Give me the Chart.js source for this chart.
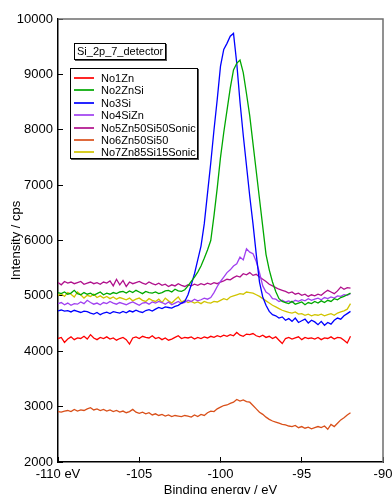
<!DOCTYPE html>
<html>
<head>
<meta charset="utf-8">
<script src="https://cdn.jsdelivr.net/npm/chart.js@4.4.0/dist/chart.umd.min.js"></script>
<style>
  html, body { margin: 0; padding: 0; background: #fff; overflow: hidden; }
  #wrap { position: relative; width: 392px; height: 494px; }
  #c { display: block; }
  .box { position: absolute; background: #fff; border: 1px solid #000; box-shadow: 1px 1px 0 #555;
         font: 11px Arial, "Liberation Sans", sans-serif; color: #000; }
  #title { left: 74px; top: 43px; padding: 1px 2px; line-height: 13px; }
  #legend { left: 70px; top: 68px; width: 126px; height: 89px; }
  .row { position: absolute; left: 0; height: 12px; line-height: 12px; white-space: nowrap; }
  .row i { position: absolute; left: 3px; top: 5px; width: 20px; height: 2px; opacity: 0.85; }
  .row span { position: absolute; left: 30px; top: 0; }
</style>
</head>
<body>
<div id="wrap">
  <canvas id="c" width="392" height="494"></canvas>
  <div id="title" class="box">Si_2p_7_detector</div>
  <div id="legend" class="box"></div>
</div>
<script>
// binding energy (eV), 0.2 eV step
var energy = [
  -110.0, -109.8, -109.6, -109.4, -109.2, -109.0, -108.8, -108.6, -108.4, -108.2,
  -108.0, -107.8, -107.6, -107.4, -107.2, -107.0, -106.8, -106.6, -106.4, -106.2,
  -106.0, -105.8, -105.6, -105.4, -105.2, -105.0, -104.8, -104.6, -104.4, -104.2,
  -104.0, -103.8, -103.6, -103.4, -103.2, -103.0, -102.8, -102.6, -102.4, -102.2,
  -102.0, -101.8, -101.6, -101.4, -101.2, -101.0, -100.8, -100.6, -100.4, -100.2,
  -100.0, -99.8, -99.6, -99.4, -99.2, -99.0, -98.8, -98.6, -98.4, -98.2,
  -98.0, -97.8, -97.6, -97.4, -97.2, -97.0, -96.8, -96.6, -96.4, -96.2,
  -96.0, -95.8, -95.6, -95.4, -95.2, -95.0, -94.8, -94.6, -94.4, -94.2,
  -94.0, -93.8, -93.6, -93.4, -93.2, -93.0, -92.8, -92.6, -92.4, -92.2,
  -92.0
];

var no1Zn = [
  4230, 4250, 4160, 4220, 4260, 4210, 4240, 4230, 4270, 4220,
  4300, 4240, 4210, 4250, 4230, 4260, 4220, 4240, 4200, 4230,
  4250, 4210, 4130, 4240, 4260, 4230, 4270, 4250, 4240, 4280,
  4230, 4250, 4210, 4240, 4200, 4220, 4250, 4280, 4230, 4250,
  4240, 4260, 4220, 4250, 4230, 4260, 4240, 4270, 4250, 4280,
  4260, 4290, 4270, 4300, 4280, 4340, 4290, 4270, 4310, 4300,
  4320, 4280, 4260, 4290, 4250, 4270, 4230, 4260, 4200, 4140,
  4230, 4250, 4220, 4240, 4260, 4210, 4250, 4230, 4240, 4220,
  4250, 4210, 4240, 4230, 4260, 4220, 4250, 4240, 4200, 4150,
  4270
];

var no2ZnSi = [
  5060, 5040, 5070, 5030, 5050, 5100, 5040, 5020, 5060, 5030,
  5050, 5010, 5040, 5070, 5020, 5050, 5030, 5060, 5040, 5070,
  5080, 5050, 5090, 5060, 5100, 5070, 5040, 5080, 5060, 5050,
  5070, 5040, 5060, 5090, 5100, 5070, 5120, 5090, 5080, 5110,
  5180, 5260, 5340, 5430, 5540, 5680, 5830, 6000, 6450, 6950,
  7500, 7950, 8350, 8750, 9080, 9200, 9260, 9030, 8650, 8250,
  7750, 7250, 6750, 6250, 5750, 5470, 5250, 5080, 4950, 4900,
  4880, 4860, 4900, 4850, 4870, 4890, 4840, 4880, 4860, 4900,
  4870, 4910, 4880, 4920, 4900, 4950, 4930, 4970, 4990, 5020,
  5050
];

var no3Si = [
  4730, 4745, 4725, 4735, 4710, 4740, 4720, 4700, 4725, 4715,
  4690, 4670, 4700, 4660, 4690, 4705, 4680, 4715, 4700, 4690,
  4720, 4695, 4730, 4710, 4740, 4715, 4700, 4735, 4750, 4725,
  4760, 4790, 4770, 4800, 4790, 4780, 4810, 4830, 4870, 4900,
  5020, 5200, 5400, 5650, 5900, 6300, 6850, 7400, 8000, 8550,
  9150, 9450, 9560, 9690, 9740, 9200, 8500, 7900, 7350, 6800,
  6300, 5750, 5250, 4980, 4830, 4720, 4660, 4640, 4600, 4620,
  4560, 4590, 4540, 4600, 4520, 4550, 4580, 4510, 4560, 4530,
  4480, 4540, 4470, 4520, 4490, 4560, 4600, 4580, 4640, 4680,
  4720
];

var no4SiZn = [
  4860, 4880, 4840, 4870, 4830, 4860, 4850, 4890, 4860, 4920,
  4880, 4850, 4870, 4840, 4880, 4860, 4900, 4870, 4850, 4880,
  4860, 4840, 4870, 4890, 4860, 4830, 4870, 4880, 4850, 4890,
  4870, 4900, 4880, 4850, 4890, 4840, 4870, 4900, 4860, 4880,
  4920, 4900, 4940, 4910, 4930, 4960, 4940, 4970, 5060, 5170,
  5260, 5340, 5420, 5470, 5540, 5580, 5700, 5650, 5850, 5790,
  5760, 5620, 5420, 5180, 5070, 5030, 4950, 4940, 4900, 4920,
  4890, 4910, 4880, 4920, 4900, 4930, 4910, 4950, 4920, 4940,
  4960, 4930, 4970, 4950, 4980, 4960, 5000, 4990, 5020, 5010,
  5040
];

var no5Sonic = [
  5240, 5200, 5260, 5230, 5250, 5220, 5240, 5260, 5210, 5230,
  5250, 5220, 5240, 5210, 5250, 5230, 5270, 5180, 5300, 5200,
  5280, 5170, 5250, 5220, 5240, 5260, 5230, 5210, 5250, 5220,
  5200, 5230, 5190, 5210, 5170, 5200, 5180, 5220, 5190, 5170,
  5200, 5180, 5210, 5190, 5220, 5200, 5230, 5210, 5240, 5220,
  5250, 5270, 5300, 5290, 5330, 5360, 5340, 5400, 5380, 5420,
  5370, 5390, 5340, 5300, 5260, 5210, 5180, 5150, 5120, 5100,
  5080, 5050, 5070, 5030, 5050, 5010, 5030, 4990, 5020, 5000,
  5030, 5010, 5060, 5100, 5070, 5040, 5090, 5160, 5120, 5150,
  5140
];

var no6Zn50Si50 = [
  2910, 2900, 2920, 2930, 2910, 2950, 2920, 2940, 2930, 2960,
  2980, 2940, 2960, 2930, 2950, 2920, 2940, 2910, 2930, 2900,
  2920, 2890, 2910, 2950, 2900, 2880, 2900, 2870, 2890, 2850,
  2870, 2840, 2860, 2830, 2850, 2820, 2840, 2830, 2820, 2840,
  2830, 2810, 2850, 2820, 2860, 2840, 2890, 2920, 2910, 2960,
  2990, 3020, 3030, 3060, 3080, 3130, 3100, 3120, 3090, 3080,
  3020, 2960, 2900, 2860, 2810, 2770, 2740, 2720, 2700, 2680,
  2670, 2650, 2640, 2660, 2620, 2640, 2610, 2630, 2600, 2620,
  2640, 2620, 2650, 2590, 2680, 2640, 2700, 2760, 2800, 2850,
  2890
];

var no7Sonic = [
  5010, 5040, 4990, 5060, 5030, 4980, 5070, 5020, 4960, 5010,
  4990, 5030, 4970, 5000, 4960, 4990, 4950, 4980, 4940, 4970,
  4950, 4930, 4960, 4910, 4940, 4960, 4920, 4900, 4950, 4920,
  4900, 4940, 4880, 4960, 4910, 4870, 4930, 4980, 4890, 4920,
  4880, 4900, 4870, 4890, 4860, 4900, 4880, 4870, 4900, 4890,
  4920, 4950, 4930, 4980, 5000, 5020, 5040, 5030, 5070, 5060,
  5050, 5020, 4990, 4950, 4910, 4870, 4830, 4800, 4770, 4740,
  4720, 4700, 4690, 4710, 4670, 4680, 4650, 4670, 4640, 4660,
  4650, 4670, 4640, 4660, 4680, 4650, 4690, 4710, 4730, 4760,
  4860
];

var seriesNames = ["No1Zn", "No2ZnSi", "No3Si", "No4SiZn", "No5Zn50Si50Sonic", "No6Zn50Si50", "No7Zn85Si15Sonic"];
var seriesData = [no1Zn, no2ZnSi, no3Si, no4SiZn, no5Sonic, no6Zn50Si50, no7Sonic];
var seriesColors = ["#ff0000", "#00a800", "#0000ff", "#a040f0", "#b0108c", "#d9501a", "#d0c400"];

var xTicks = [-110, -105, -100, -95, -90];
var yTicks = [2000, 3000, 4000, 5000, 6000, 7000, 8000, 9000, 10000];

var FONT = 'Arial, "Liberation Sans", sans-serif';

// legend html
var legend = document.getElementById("legend");
for (var i = 0; i < seriesNames.length; i++) {
  var row = document.createElement("div");
  row.className = "row";
  row.style.top = Math.round(3 + i * 12.4) + "px";
  row.innerHTML = '<i style="background:' + seriesColors[i] + '"></i><span>' + seriesNames[i] + '</span>';
  legend.appendChild(row);
}

var datasets = [];
for (var s = 0; s < seriesNames.length; s++) {
  var pts = [];
  for (var k = 0; k < energy.length; k++) {
    pts.push({ x: energy[k], y: seriesData[s][k] });
  }
  datasets.push({
    label: seriesNames[s],
    data: pts,
    borderColor: seriesColors[s],
    backgroundColor: seriesColors[s],
    borderWidth: 1.3,
    pointRadius: 0,
    tension: 0,
    fill: false
  });
}

// grey top and right frame lines
var framePlugin = {
  id: "frame",
  afterDraw: function (chart) {
    var a = chart.chartArea, ctx = chart.ctx;
    ctx.save();
    ctx.strokeStyle = "#6e6e6e";
    ctx.lineWidth = 1.5;
    ctx.beginPath();
    ctx.moveTo(a.left, a.top);
    ctx.lineTo(a.right, a.top);
    ctx.lineTo(a.right, a.bottom);
    ctx.stroke();
    ctx.restore();
  }
};

new Chart(document.getElementById("c").getContext("2d"), {
  type: "line",
  data: { datasets: datasets },
  plugins: [framePlugin],
  options: {
    responsive: false,
    animation: false,
    events: [],
    layout: { padding: { top: 19, right: 9, left: 0, bottom: 0 } },
    plugins: { legend: { display: false }, tooltip: { enabled: false } },
    scales: {
      x: {
        type: "linear",
        min: -110,
        max: -90,
        afterBuildTicks: function (scale) {
          scale.ticks = xTicks.map(function (v) { return { value: v }; });
        },
        afterFit: function (scale) {
          scale.height = 32;
          scale.paddingRight = 0;
          scale.paddingLeft = 0;
        },
        ticks: {
          color: "#000",
          font: { family: FONT, size: 13 },
          padding: 10,
          maxRotation: 0,
          callback: function (v) { return v === -110 ? "-110 eV" : String(v); }
        },
        grid: { drawOnChartArea: false, tickLength: -5, color: "#000", lineWidth: 1 },
        border: { color: "#000", width: 1.5 },
        title: {
          display: true,
          text: "Binding energy / eV",
          color: "#000",
          font: { family: FONT, size: 13 },
          padding: { top: 0, bottom: -4 }
        }
      },
      y: {
        min: 2000,
        max: 10000,
        afterBuildTicks: function (scale) {
          scale.ticks = yTicks.map(function (v) { return { value: v }; });
        },
        afterFit: function (scale) {
          scale.width = 58;
        },
        ticks: {
          color: "#000",
          font: { family: FONT, size: 13 },
          padding: 10,
          callback: function (v) { return String(v); }
        },
        grid: { drawOnChartArea: false, tickLength: -5, color: "#000", lineWidth: 1 },
        border: { color: "#000", width: 1.5 },
        title: {
          display: true,
          text: "Intensity / cps",
          color: "#000",
          font: { family: FONT, size: 13 },
          padding: { top: 9, bottom: 0 }
        }
      }
    }
  }
});
</script>
</body>
</html>
